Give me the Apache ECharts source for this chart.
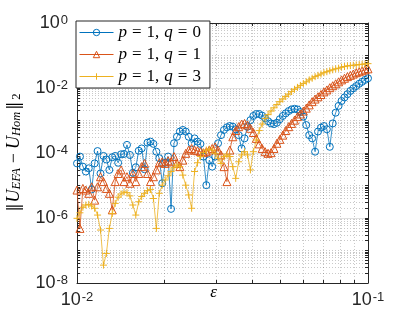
<!DOCTYPE html>
<html><head><meta charset="utf-8">
<script src="https://cdn.jsdelivr.net/npm/echarts@6/dist/echarts.min.js"></script>
<style>html,body{margin:0;padding:0;background:#fff}#c{width:407px;height:317px}</style>
</head><body><div id="c"></div>
<script>
// epsilon sampling grid: 100 log-spaced points between 1e-2 and 1e-1 (simulation grid)
const epsMin = 0.01, epsMax = 0.1, nEps = 100;
const epsilon = Array.from({length: nEps}, (_, i) =>
  Math.pow(10, Math.log10(epsMin) + i * (Math.log10(epsMax) - Math.log10(epsMin)) / (nEps - 1)));

const seriesNames = ['p = 1, q = 0', 'p = 1, q = 1', 'p = 1, q = 3'];

// read values, stored as log10 of ||U_EFA - U_Hom||_2
const log10Err_q0 = [-4.32,-4.11,-4.42,-4.57,-4.47,-5.12,-4.32,-3.94,-4.63,-4.09,
-4.20,-4.52,-4.13,-4.09,-4.30,-4.04,-4.03,-3.75,-4.06,-4.61,
-4.44,-3.93,-3.86,-4.50,-3.68,-3.65,-3.72,-3.96,-4.16,-4.93,
-4.30,-4.11,-5.72,-3.70,-3.50,-3.34,-3.29,-3.34,-3.50,-3.70,
-3.55,-3.65,-3.72,-4.11,-4.99,-4.22,-4.42,-4.11,-3.70,-3.45,
-3.29,-3.21,-3.17,-3.19,-3.27,-3.45,-3.86,-3.55,-3.19,-2.99,
-2.86,-2.80,-2.80,-2.85,-2.93,-3.02,-3.09,-3.11,-3.07,-2.96,
-2.86,-2.78,-2.71,-2.66,-2.64,-2.66,-2.74,-2.88,-3.14,-3.45,
-3.55,-3.96,-3.34,-3.22,-3.17,-3.27,-3.81,-3.09,-2.76,-2.55,
-2.40,-2.29,-2.19,-2.09,-2.01,-1.94,-1.87,-1.81,-1.75,-1.70];

const log10Err_q1 = [-5.14,-6.32,-5.09,-5.14,-5.24,-5.04,-5.45,-5.04,-4.73,-4.88,
-5.09,-5.24,-5.75,-4.88,-4.63,-4.52,-4.88,-4.73,-4.93,-4.63,
-4.88,-4.63,-4.42,-4.32,-4.63,-4.88,-4.73,-4.52,-4.30,-4.27,
-4.32,-4.24,-4.27,-4.11,-4.32,-4.42,-4.22,-4.01,-3.91,-3.86,
-3.91,-3.93,-3.96,-3.99,-3.96,-3.91,-3.86,-3.81,-3.91,-4.06,
-4.42,-4.88,-3.91,-3.50,-3.31,-3.19,-3.11,-3.09,-3.14,-3.24,
-3.37,-3.55,-3.72,-3.86,-3.96,-4.01,-3.99,-3.86,-3.70,-3.58,
-3.45,-3.31,-3.19,-3.09,-2.99,-2.88,-2.80,-2.71,-2.62,-2.52,
-2.42,-2.34,-2.27,-2.20,-2.12,-2.06,-1.99,-1.93,-1.87,-1.81,
-1.75,-1.70,-1.65,-1.61,-1.57,-1.53,-1.50,-1.47,-1.44,-1.41];

const log10Err_q3 = [-6.01,-5.84,-5.67,-5.60,-5.58,-5.63,-5.70,-5.91,-6.37,-7.45,
-7.09,-6.32,-5.86,-5.55,-5.36,-5.26,-5.20,-5.22,-5.32,-5.60,
-5.91,-5.50,-5.34,-5.24,-5.16,-5.12,-5.40,-6.32,-5.24,-4.99,
-4.83,-4.70,-4.57,-4.45,-4.37,-4.42,-4.68,-4.99,-5.29,-5.70,
-4.57,-4.30,-4.11,-3.99,-3.91,-3.88,-3.91,-4.01,-4.16,-4.32,
-4.11,-4.06,-4.11,-4.42,-4.78,-4.27,-4.06,-3.96,-4.06,-4.52,
-3.96,-3.60,-3.31,-3.11,-2.94,-2.82,-2.71,-2.61,-2.51,-2.42,
-2.34,-2.26,-2.19,-2.11,-2.04,-1.98,-1.92,-1.86,-1.81,-1.75,
-1.70,-1.65,-1.61,-1.57,-1.53,-1.50,-1.47,-1.44,-1.41,-1.39,
-1.36,-1.34,-1.32,-1.31,-1.30,-1.29,-1.28,-1.27,-1.26,-1.25];

// axis ticks / labels
const xLabelValues = [0.01, 0.1];
const yLabelValues = [1e-8, 1e-6, 1e-4, 1e-2, 1];
const minorMultipliers = [2, 3, 4, 5, 6, 7, 8, 9];
const yDecades = [-8, -7, -6, -5, -4, -3, -2, -1, 0];

const colors = ['#0072BD', '#D95319', '#EDB120'];
const axisColor = '#262626';

// tick positions (major + minor)
const xTickValues = [0.01];
minorMultipliers.forEach(m => xTickValues.push(m * 0.01));
xTickValues.push(0.1);
const yTickValues = [];
yDecades.forEach(k => {
  yTickValues.push(Math.pow(10, k));
  if (k < 0) minorMultipliers.forEach(m => yTickValues.push(m * Math.pow(10, k)));
});

// grid lines
const gridMajorStyle = {color: 'rgba(38,38,38,0.15)', width: 1, type: 'solid'};
const gridMinorStyle = {color: 'rgba(38,38,38,0.25)', width: 1, type: [1, 2]};
const gridLines = [];
minorMultipliers.forEach(m => gridLines.push({xAxis: m * 0.01, lineStyle: gridMinorStyle}));
yDecades.forEach(k => {
  if (k === -8 || k === 0) return;
  const major = (k % 2 === 0);
  gridLines.push({yAxis: Math.pow(10, k), lineStyle: major ? gridMajorStyle : gridMinorStyle});
});
yDecades.forEach(k => {
  if (k >= 0) return;
  minorMultipliers.forEach(m => gridLines.push({yAxis: m * Math.pow(10, k), lineStyle: gridMinorStyle}));
});

const powFormatter = v => {
  const e = Math.round(Math.log10(v));
  return '{b|10}{s|' + (e < 0 ? '-' + (-e) : e) + '}';
};
const tickRich = {
  b: {fontFamily: 'Liberation Sans', fontSize: 18, lineHeight: 18, color: axisColor, verticalAlign: 'bottom'},
  s: {fontFamily: 'Liberation Sans', fontSize: 13, lineHeight: 13, color: axisColor, verticalAlign: 'top', padding: [0, 0, 9, 1]}
};

const serif = 'Liberation Serif';
const titleRich = {
  d: {fontFamily: 'DejaVu Serif', fontSize: 16, lineHeight: 24, verticalAlign: 'bottom', color: '#000', padding: [0, 1, 0, 1]},
  u: {fontFamily: serif, fontStyle: 'italic', fontSize: 18, lineHeight: 24, verticalAlign: 'bottom', color: '#000'},
  s: {fontFamily: serif, fontStyle: 'italic', fontSize: 12.5, lineHeight: 13, verticalAlign: 'bottom', color: '#000', padding: [0, 1, 0, 0]},
  m: {fontFamily: serif, fontSize: 18, lineHeight: 24, verticalAlign: 'bottom', color: '#000', padding: [0, 4, 0, 4]},
  t: {fontFamily: serif, fontSize: 12.5, lineHeight: 13, verticalAlign: 'bottom', color: '#000', padding: [0, 0, 0, 1]}
};

const legendLabels = {
  'p = 1, q = 0': '{i|p}{e|=}{r|1,}{i|q}{e|=}{r|0}',
  'p = 1, q = 1': '{i|p}{e|=}{r|1,}{i|q}{e|=}{r|1}',
  'p = 1, q = 3': '{i|p}{e|=}{r|1,}{i|q}{e|=}{r|3}'
};
const legendRich = {
  i: {fontFamily: serif, fontStyle: 'italic', fontSize: 17, lineHeight: 18, color: '#000'},
  e: {fontFamily: serif, fontSize: 17, lineHeight: 18, color: '#000', padding: [0, 5, 0, 5]},
  r: {fontFamily: serif, fontSize: 17, lineHeight: 18, color: '#000', padding: [0, 5, 0, 0]}
};

const logData = [log10Err_q0, log10Err_q1, log10Err_q3];
const symbols = ['circle', 'triangle', 'path://M5 0 L5 10 M0 5 L10 5'];
const symbolSizes = [7, 8, 7];

const series = logData.map((arr, si) => ({
  name: seriesNames[si],
  type: 'line',
  data: arr.map((v, i) => [epsilon[i], Math.pow(10, v)]),
  symbol: symbols[si],
  symbolSize: symbolSizes[si],
  showSymbol: true,
  showAllSymbol: true,
  lineStyle: {color: colors[si], width: 0.8},
  itemStyle: {color: 'rgba(0,0,0,0)', borderColor: colors[si], borderWidth: 1},
  emphasis: {disabled: true},
  silent: true,
  z: 3
}));
series.unshift({
  name: 'grid', type: 'line', data: [], silent: true, z: 1,
  markLine: {silent: true, symbol: ['none', 'none'], label: {show: false}, z: 1, precision: 20,
    emphasis: {disabled: true}, data: gridLines, animation: false}
});

const baseX = {
  type: 'log', logBase: 10, min: 0.01, max: 0.1, nameMoveOverlap: false,
  axisLine: {show: true, onZero: false, lineStyle: {color: axisColor, width: 1}},
  axisTick: {show: true, inside: true, length: 3, customValues: xTickValues, lineStyle: {color: axisColor, width: 1}},
  splitLine: {show: false}, minorTick: {show: false}, minorSplitLine: {show: false}
};
const baseY = {
  type: 'log', logBase: 10, min: 1e-8, max: 1, nameMoveOverlap: false,
  axisLine: {show: true, onZero: false, lineStyle: {color: axisColor, width: 1}},
  axisTick: {show: true, inside: true, length: 3, customValues: yTickValues, lineStyle: {color: axisColor, width: 1}},
  splitLine: {show: false}, minorTick: {show: false}, minorSplitLine: {show: false}
};

const option = {
  animation: false,
  backgroundColor: '#fff',
  grid: {left: 77, right: 39, top: 23, bottom: 34, containLabel: false, outerBoundsMode: 'none'},
  legend: {
    orient: 'vertical', left: 76, top: 21,
    padding: [3, 4, 3, 3], itemGap: 5, itemWidth: 34, itemHeight: 8,
    backgroundColor: '#fff', borderColor: axisColor, borderWidth: 1,
    selectedMode: false,
    data: seriesNames,
    formatter: name => legendLabels[name],
    itemStyle: {borderWidth: 1},
    lineStyle: {width: 1},
    textStyle: {rich: legendRich}
  },
  xAxis: [
    Object.assign({}, baseX, {
      position: 'bottom',
      axisLabel: {customValues: xLabelValues, formatter: powFormatter, rich: tickRich, margin: 8},
      name: 'ε', nameLocation: 'middle', nameGap: 1,
      nameTextStyle: {fontFamily: serif, fontStyle: 'italic', fontSize: 17, lineHeight: 17, color: '#000', padding: [0, 18, 0, 0]}
    }),
    Object.assign({}, baseX, {position: 'top', axisLabel: {show: false}})
  ],
  yAxis: [
    Object.assign({}, baseY, {
      position: 'left',
      axisLabel: {customValues: yLabelValues, formatter: powFormatter, rich: tickRich, margin: 9},
      name: '{d|‖}{u|U}{s|EFA}{m|−}{u|U}{s|Hom}{d|‖}{t|2}',
      nameLocation: 'middle', nameRotate: 90, nameGap: 54,
      nameTextStyle: {rich: titleRich}
    }),
    Object.assign({}, baseY, {position: 'right', axisLabel: {show: false}})
  ],
  series: series
};

const chart = echarts.init(document.getElementById('c'), null, {renderer: 'canvas'});
chart.setOption(option);
</script>
</body></html>
